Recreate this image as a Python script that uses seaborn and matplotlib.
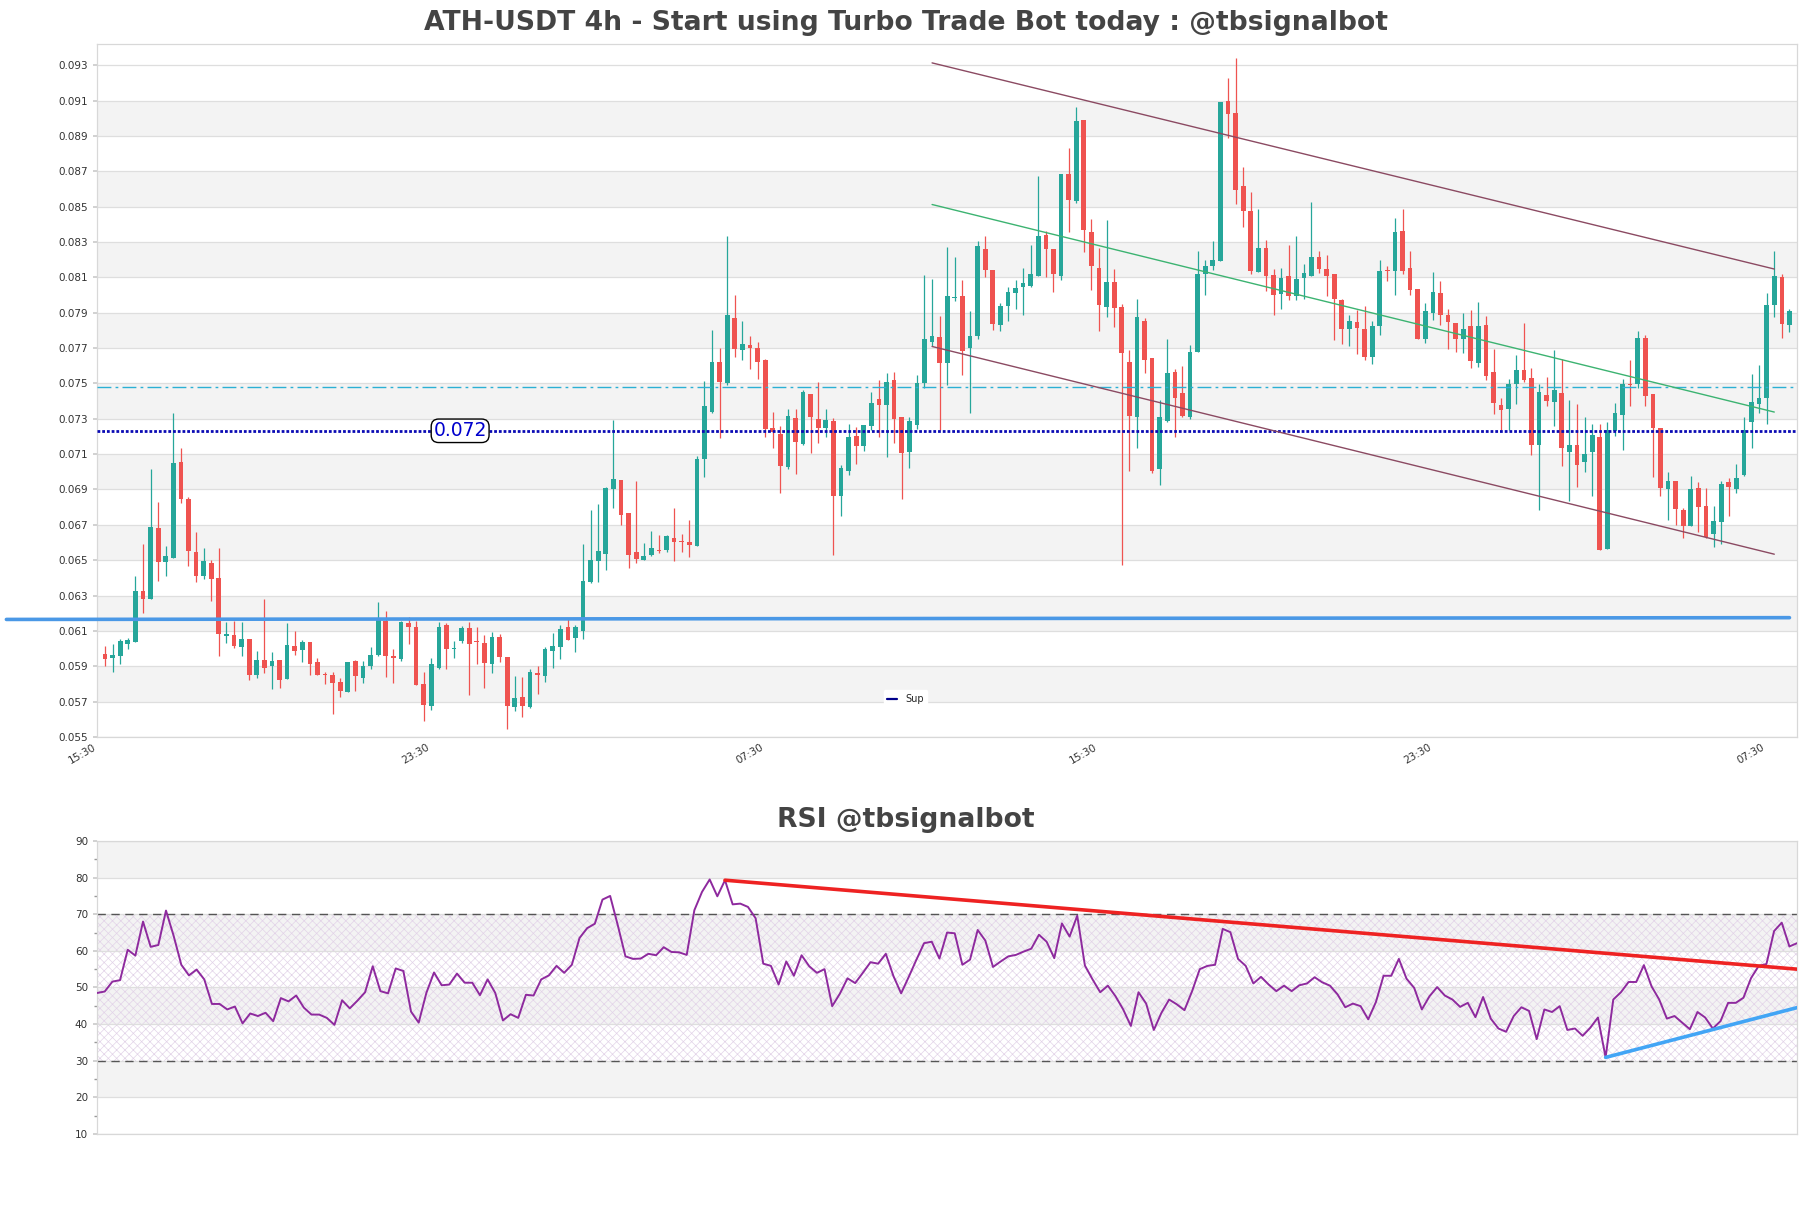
import numpy as np
import pandas as pd
import matplotlib
matplotlib.use("Agg")
import matplotlib.pyplot as plt
import seaborn as sns
from matplotlib.lines import Line2D

# ---------------- data ----------------
opens = [0.05967,0.05948,0.05958,0.06024,0.06039,0.06328,0.06279,0.06681,0.06488,0.06512,
0.07057,0.06846,0.06545,0.06410,0.06482,0.06402,0.06073,0.06077,0.06009,0.06054,
0.05850,0.05935,0.05901,0.05935,0.05829,0.06015,0.05994,0.06037,0.05924,0.05858,
0.05850,0.05810,0.05755,0.05930,0.05835,0.05901,0.05962,0.06157,0.05958,0.05939,
0.06144,0.06123,0.05797,0.05675,0.05892,0.06134,0.05999,0.06043,0.06115,0.06043,
0.06032,0.05914,0.06066,0.05953,0.05670,0.05725,0.05671,0.05862,0.05845,0.05986,
0.06009,0.06123,0.06058,0.06100,0.06376,0.06495,0.06533,0.06903,0.06954,0.06765,
0.06545,0.06503,0.06527,0.06560,0.06556,0.06626,0.06607,0.06603,0.06581,0.07070,
0.07337,0.07620,0.07501,0.07870,0.07690,0.07718,0.07703,0.07633,0.07246,0.07214,
0.07029,0.07303,0.07157,0.07441,0.07297,0.07246,0.07289,0.06864,0.07004,0.07202,
0.07148,0.07259,0.07412,0.07378,0.07520,0.07308,0.07114,0.07265,0.07501,0.07737,
0.07762,0.07618,0.07983,0.07996,0.07699,0.07770,0.08263,0.08140,0.07832,0.07936,
0.08011,0.08043,0.08053,0.08110,0.08342,0.08263,0.08106,0.08682,0.08531,0.08988,
0.08359,0.08153,0.07932,0.08074,0.07930,0.07620,0.07312,0.07851,0.07645,0.07014,
0.07287,0.07567,0.07448,0.07312,0.07675,0.08121,0.08163,0.08195,0.09098,0.09028,
0.08616,0.08478,0.08128,0.08266,0.08115,0.08006,0.08110,0.07992,0.08094,0.08110,
0.08215,0.08149,0.08121,0.07970,0.07807,0.07847,0.07809,0.07652,0.07822,0.08144,
0.08134,0.08363,0.08153,0.08034,0.07754,0.07898,0.08011,0.07889,0.07841,0.07752,
0.07822,0.07618,0.07830,0.07562,0.07376,0.07357,0.07495,0.07574,0.07529,0.07154,
0.07434,0.07396,0.07443,0.07111,0.07154,0.07054,0.07111,0.07196,0.06565,0.07230,
0.07324,0.07498,0.07498,0.07759,0.07438,0.07249,0.06905,0.06950,0.06786,0.06691,
0.06909,0.06809,0.06648,0.06716,0.06941,0.06905,0.06980,0.07281,0.07385,0.07419,
0.07944,0.08103,0.07831]
highs = [0.06015,0.06024,0.06053,0.06062,0.06408,0.06594,0.07017,0.06830,0.06579,0.07330,
0.07134,0.06856,0.06659,0.06569,0.06503,0.06567,0.06152,0.06157,0.06152,0.06054,
0.05986,0.06281,0.05981,0.05935,0.06146,0.06100,0.06049,0.06037,0.05949,0.05869,
0.05869,0.05835,0.05924,0.05935,0.05930,0.06009,0.06262,0.06210,0.05996,0.06154,
0.06180,0.06154,0.05869,0.05949,0.06148,0.06142,0.06043,0.06130,0.06148,0.06123,
0.06077,0.06096,0.06081,0.05953,0.05845,0.05839,0.05882,0.05901,0.06009,0.06087,
0.06132,0.06166,0.06134,0.06590,0.06784,0.06818,0.06916,0.07292,0.06954,0.06765,
0.06950,0.06598,0.06664,0.06645,0.06643,0.06793,0.06647,0.06730,0.07089,0.07514,
0.07803,0.07703,0.08333,0.08002,0.07851,0.07770,0.07736,0.07637,0.07338,0.07259,
0.07354,0.07354,0.07463,0.07441,0.07507,0.07354,0.07303,0.07038,0.07269,0.07255,
0.07265,0.07450,0.07520,0.07558,0.07567,0.07308,0.07312,0.07548,0.08115,0.08091,
0.07879,0.08272,0.08215,0.08083,0.07911,0.08308,0.08336,0.08140,0.07955,0.08045,
0.08087,0.08153,0.08285,0.08673,0.08361,0.08263,0.08682,0.08832,0.09066,0.08988,
0.08431,0.08266,0.08427,0.08147,0.07949,0.07690,0.07979,0.07870,0.07645,0.07407,
0.07754,0.07580,0.07596,0.07718,0.08248,0.08200,0.08308,0.09094,0.09227,0.09338,
0.08726,0.08584,0.08488,0.08314,0.08149,0.08153,0.08285,0.08336,0.08178,0.08527,
0.08248,0.08229,0.08121,0.07977,0.07889,0.07913,0.07936,0.07851,0.08197,0.08166,
0.08433,0.08488,0.08251,0.08034,0.07955,0.08129,0.08081,0.07921,0.07841,0.07898,
0.07917,0.07960,0.07879,0.07694,0.07416,0.07526,0.07662,0.07844,0.07585,0.07495,
0.07538,0.07687,0.07640,0.07404,0.07381,0.07309,0.07268,0.07272,0.07281,0.07387,
0.07523,0.07631,0.07797,0.07772,0.07438,0.07249,0.06999,0.06950,0.06795,0.06979,
0.06943,0.06909,0.06809,0.06946,0.06965,0.07045,0.07309,0.07551,0.07602,0.08009,
0.08247,0.08118,0.07920]
lows = [0.05901,0.05869,0.05911,0.05996,0.06039,0.06204,0.06279,0.06385,0.06408,0.06512,
0.06826,0.06467,0.06376,0.06391,0.06271,0.05958,0.06034,0.06005,0.05958,0.05824,
0.05835,0.05863,0.05774,0.05778,0.05829,0.05964,0.05924,0.05848,0.05848,0.05801,
0.05630,0.05725,0.05755,0.05759,0.05806,0.05882,0.05958,0.05839,0.05806,0.05930,
0.06028,0.05795,0.05588,0.05654,0.05882,0.05884,0.05945,0.06030,0.05740,0.05911,
0.05778,0.05863,0.05922,0.05544,0.05649,0.05611,0.05664,0.05744,0.05812,0.05892,
0.05943,0.06051,0.05983,0.06056,0.06370,0.06376,0.06442,0.06793,0.06698,0.06455,
0.06484,0.06499,0.06522,0.06541,0.06546,0.06495,0.06547,0.06518,0.06581,0.06968,
0.07331,0.07189,0.07492,0.07652,0.07633,0.07580,0.07524,0.07195,0.07132,0.06881,
0.07014,0.06985,0.07151,0.07108,0.07165,0.07195,0.06528,0.06751,0.06981,0.07047,
0.07117,0.07237,0.07195,0.07081,0.07165,0.06844,0.07020,0.07240,0.07473,0.07709,
0.07237,0.07492,0.07964,0.07548,0.07335,0.07750,0.08102,0.07800,0.07794,0.07851,
0.07921,0.07885,0.08045,0.08110,0.08100,0.08017,0.08087,0.08355,0.08522,0.08244,
0.08026,0.07794,0.07873,0.07817,0.06471,0.07006,0.07132,0.07558,0.06994,0.06928,
0.07280,0.07195,0.07312,0.07299,0.07675,0.08002,0.08144,0.08195,0.08890,0.08512,
0.08384,0.08121,0.08128,0.08021,0.07885,0.07921,0.07974,0.07970,0.07977,0.08110,
0.08125,0.07996,0.07743,0.07724,0.07713,0.07667,0.07633,0.07611,0.07775,0.08078,
0.08002,0.08119,0.08002,0.07750,0.07728,0.07856,0.07832,0.07694,0.07675,0.07671,
0.07590,0.07592,0.07520,0.07327,0.07237,0.07237,0.07384,0.07510,0.07094,0.06786,
0.07372,0.07258,0.07032,0.06833,0.06912,0.06998,0.06861,0.06559,0.06565,0.07202,
0.07122,0.07372,0.07476,0.07372,0.06969,0.06861,0.06729,0.06701,0.06625,0.06691,
0.06657,0.06625,0.06574,0.06591,0.06748,0.06880,0.06975,0.07136,0.07334,0.07272,
0.07873,0.07755,0.07791]
closes = [0.05942,0.05961,0.06043,0.06049,0.06328,0.06279,0.06687,0.06488,0.06522,0.07051,
0.06844,0.06552,0.06410,0.06494,0.06393,0.06085,0.06081,0.06015,0.06054,0.05848,
0.05935,0.05892,0.05930,0.05824,0.06020,0.05988,0.06037,0.05914,0.05850,0.05848,
0.05806,0.05759,0.05924,0.05845,0.05901,0.05964,0.06166,0.05960,0.05945,0.06148,
0.06123,0.05795,0.05679,0.05911,0.06123,0.05999,0.06001,0.06119,0.06028,0.06035,
0.05920,0.06066,0.05953,0.05675,0.05719,0.05677,0.05869,0.05852,0.05996,0.06015,
0.06110,0.06051,0.06123,0.06385,0.06499,0.06550,0.06910,0.06960,0.06755,0.06529,
0.06507,0.06522,0.06567,0.06550,0.06636,0.06603,0.06601,0.06588,0.07070,0.07372,
0.07620,0.07507,0.07885,0.07694,0.07724,0.07699,0.07620,0.07242,0.07227,0.07034,
0.07316,0.07170,0.07454,0.07312,0.07246,0.07293,0.06864,0.07023,0.07199,0.07148,
0.07265,0.07391,0.07378,0.07510,0.07299,0.07108,0.07289,0.07501,0.07750,0.07770,
0.07614,0.07996,0.07989,0.07681,0.07766,0.08276,0.08140,0.07837,0.07936,0.08017,
0.08042,0.08068,0.08119,0.08333,0.08263,0.08121,0.08682,0.08537,0.08985,0.08370,
0.08163,0.07941,0.08074,0.07924,0.07671,0.07318,0.07873,0.07633,0.07004,0.07312,
0.07558,0.07420,0.07318,0.07675,0.08121,0.08166,0.08197,0.09094,0.09026,0.08593,
0.08474,0.08134,0.08266,0.08106,0.07998,0.08096,0.07992,0.08091,0.08125,0.08215,
0.08147,0.08106,0.07977,0.07809,0.07851,0.07813,0.07648,0.07822,0.08138,0.08136,
0.08355,0.08138,0.08026,0.07750,0.07911,0.08017,0.07885,0.07845,0.07752,0.07809,
0.07624,0.07826,0.07544,0.07388,0.07350,0.07495,0.07577,0.07519,0.07154,0.07451,
0.07400,0.07462,0.07132,0.07154,0.07041,0.07103,0.07206,0.06559,0.07239,0.07334,
0.07498,0.07491,0.07759,0.07428,0.07249,0.06909,0.06946,0.06790,0.06691,0.06903,
0.06801,0.06631,0.06720,0.06931,0.06912,0.06965,0.07239,0.07394,0.07415,0.07942,
0.08109,0.07835,0.07907]
rsi = [48.5,48.9,51.6,52.0,60.3,58.7,68.0,61.1,61.6,71.0,
64.1,56.2,53.3,54.9,52.2,45.5,45.5,44.0,44.8,40.2,
42.9,42.2,43.1,40.8,47.1,46.2,47.8,44.5,42.6,42.6,
41.7,39.8,46.5,44.3,46.4,48.7,55.8,49.0,48.4,55.2,
54.5,43.4,40.4,48.5,54.1,50.6,50.8,53.8,51.3,51.3,
47.9,52.2,48.5,41.0,42.7,41.7,48.0,47.8,52.2,53.3,
55.9,54.0,56.2,63.5,66.2,67.4,74.0,75.0,67.0,58.5,
57.8,57.9,59.2,58.8,61.0,59.7,
59.6,58.9,71.1,76.1,79.5,74.9,79.3,72.7,72.9,72.0,
68.9,56.5,55.9,50.8,57.1,53.2,58.8,55.8,54.0,55.0,
44.9,48.3,52.5,51.2,54.0,56.9,56.5,59.2,53.1,48.4,
52.9,57.6,62.1,62.5,57.9,65.0,64.8,56.2,57.6,65.7,
62.8,55.6,57.1,58.5,58.9,59.8,60.6,64.4,62.5,58.0,
67.5,63.9,69.6,56.0,52.2,48.7,50.5,47.6,44.0,39.5,
48.7,45.6,38.4,43.1,46.7,45.4,43.8,49.0,55.0,55.9,
56.2,66.0,65.1,57.8,
55.9,51.1,52.9,50.8,49.0,50.5,49.0,50.6,51.1,52.8,
51.4,50.5,48.1,44.6,45.6,44.9,41.3,46.0,53.2,53.2,
57.8,52.4,49.9,44.0,47.6,50.1,47.8,46.7,44.7,45.8,
41.9,47.4,41.5,38.8,37.9,42.2,44.6,43.6,35.9,44.0,
43.3,44.9,38.4,38.8,36.8,39.0,41.8,30.9,46.7,48.7,
51.5,51.5,56.1,50.3,46.7,41.5,42.2,40.4,38.6,43.3,
41.8,38.8,40.8,45.8,45.8,47.2,52.6,55.9,56.4,65.4,
67.7,61.2,62.1]

x_tick_labels = ["15:30", "23:30", "07:30", "15:30", "23:30", "07:30"]
x_tick_index = [-1, 43, 87, 131, 175, 219]
price_ticks = [0.055, 0.057, 0.059, 0.061, 0.063, 0.065, 0.067, 0.069, 0.071, 0.073,
               0.075, 0.077, 0.079, 0.081, 0.083, 0.085, 0.087, 0.089, 0.091, 0.093]
rsi_ticks = [10, 20, 30, 40, 50, 60, 70, 80, 90]

support_level = 0.07232
support_text = "0.072"
support_text_index = 46.8
resistance_level = 0.07482
base_trend_x = [-13, 222]
base_trend_y = [0.06165, 0.06175]
channel_x = [109, 220]
channel_upper_y = [0.09313, 0.08147]
channel_lower_y = [0.07709, 0.06534]
channel_mid_y = [0.08512, 0.07338]
rsi_down_x = [82, 222]
rsi_down_y = [79.3, 55.0]
rsi_up_x = [197, 222]
rsi_up_y = [30.9, 44.5]

title_main = "ATH-USDT 4h - Start using Turbo Trade Bot today : @tbsignalbot"
title_rsi = "RSI @tbsignalbot"

# ---------------- style ----------------
sns.set_theme(style="white")
plt.rcParams['font.family'] = ['DejaVu Sans']
plt.rcParams['hatch.linewidth'] = 0.5

UP = '#26a69a'
DOWN = '#ef5350'
BAND = '#f3f3f3'
GRID = '#dedede'
SPINE = '#d8d8d8'
TXT = '#333333'

fig = plt.figure(figsize=(18.11, 12.08), dpi=100)
ax = fig.add_axes([0.0536, 0.3899, 0.9387, 0.5737])
ax2 = fig.add_axes([0.0536, 0.0613, 0.9387, 0.2425])
# title x position: centred on the figure, expressed in axes fraction
title_x = (0.5 - 0.0536) / 0.9387

# ---------------- price panel ----------------
df = pd.DataFrame({'o': opens, 'h': highs, 'l': lows, 'c': closes})
df['i'] = np.arange(len(df))
colors = np.where(df['c'] >= df['o'], UP, DOWN)

for k in range(1, len(price_ticks) - 1, 2):
    ax.axhspan(price_ticks[k], price_ticks[k + 1], color=BAND, zorder=0, lw=0)
ax.set_yticks(price_ticks)
ax.yaxis.grid(True, color=GRID, lw=0.9)
ax.set_axisbelow(True)

ax.vlines(df['i'], df['l'], df['h'], colors=colors, lw=0.9, zorder=3)
body_bottom = np.minimum(df['o'], df['c'])
body_height = np.maximum((df['c'] - df['o']).abs(), 0.00004)
ax.bar(df['i'], body_height, bottom=body_bottom, width=0.62, color=colors, lw=0, zorder=4)

ax.plot(base_trend_x, base_trend_y, color='#4a98e6', lw=2.6, clip_on=False, zorder=5)
ax.axhline(support_level, color='#0a0ab4', ls=(0, (1, 0.7)), lw=2.0, zorder=5)
ax.axhline(resistance_level, color='#2bb0d4', ls=(0, (10, 3, 2, 3)), lw=1.0, zorder=5)
ax.plot(channel_x, channel_upper_y, color='#8b4a62', lw=1.0, zorder=5)
ax.plot(channel_x, channel_lower_y, color='#8b4a62', lw=1.0, zorder=5)
ax.plot(channel_x, channel_mid_y, color='#3cb371', lw=1.0, zorder=5)
ax.text(support_text_index, support_level, support_text, color='#0000cd', fontsize=13.5,
        ha='center', va='center', zorder=6,
        bbox=dict(boxstyle='round,pad=0.12,rounding_size=0.4', fc='white', ec='black', lw=1))

ax.set_xlim(-1.05, 223)
ax.set_ylim(0.055, 0.0942)
ax.set_xticks(x_tick_index)
ax.set_xticklabels(x_tick_labels, rotation=30, ha='right', fontsize=7.5, color=TXT)
ax.yaxis.set_major_formatter(matplotlib.ticker.FormatStrFormatter('%.3f'))
ax.tick_params(axis='y', labelsize=7.5, labelcolor=TXT, length=3, color='#cccccc', left=True)
ax.tick_params(axis='x', length=0, pad=4)
for s in ax.spines.values():
    s.set_color(SPINE)
    s.set_linewidth(0.9)
leg = ax.legend(handles=[Line2D([], [], color='#00008b', lw=1.6)], labels=['Sup'],
                loc='lower center', bbox_to_anchor=(title_x, 0.035), fontsize=7,
                handlelength=1.0, frameon=True, framealpha=1)
leg.get_frame().set_edgecolor('white')
ax.set_title(title_main, fontsize=19.2, fontweight='bold', color='#444444', pad=10, x=title_x)

# ---------------- RSI panel ----------------
for lo in [20, 40, 60, 80]:
    ax2.axhspan(lo, lo + 10, color=BAND, zorder=0, lw=0)
ax2.axhspan(30, 70, facecolor='none', hatch='xxxx', edgecolor='#e2d3e8', lw=0, zorder=0.5)
ax2.set_yticks(rsi_ticks)
ax2.set_yticks([15, 25, 35, 45, 55, 65, 75, 85], minor=True)
ax2.yaxis.grid(True, which='major', color=GRID, lw=0.9)
ax2.set_axisbelow(True)
ax2.axhline(70, color='#555555', ls=(0, (6, 4)), lw=1.0, zorder=2)
ax2.axhline(30, color='#555555', ls=(0, (6, 4)), lw=1.0, zorder=2)

rsi_df = pd.DataFrame({'i': np.arange(len(rsi)), 'rsi': rsi})
sns.lineplot(data=rsi_df, x='i', y='rsi', ax=ax2, color='#8e2a9e', lw=1.4, zorder=3)
ax2.plot(rsi_down_x, rsi_down_y, color='#ee2222', lw=2.6, zorder=4)
ax2.plot(rsi_up_x, rsi_up_y, color='#42a5f5', lw=2.6, zorder=4)

ax2.set_xlim(0, len(rsi) - 1)
ax2.set_ylim(10, 90)
ax2.set_xticks([])
ax2.set_xlabel('')
ax2.set_ylabel('')
ax2.tick_params(axis='y', which='major', labelsize=7.5, labelcolor=TXT, length=3, color='#cccccc', left=True)
ax2.tick_params(axis='y', which='minor', length=2, color='#999999', left=True)
for s in ax2.spines.values():
    s.set_color(SPINE)
    s.set_linewidth(0.9)
ax2.set_title(title_rsi, fontsize=19.2, fontweight='bold', color='#444444', pad=10, x=title_x)

fig.savefig('out.png', dpi=100, facecolor='white')
